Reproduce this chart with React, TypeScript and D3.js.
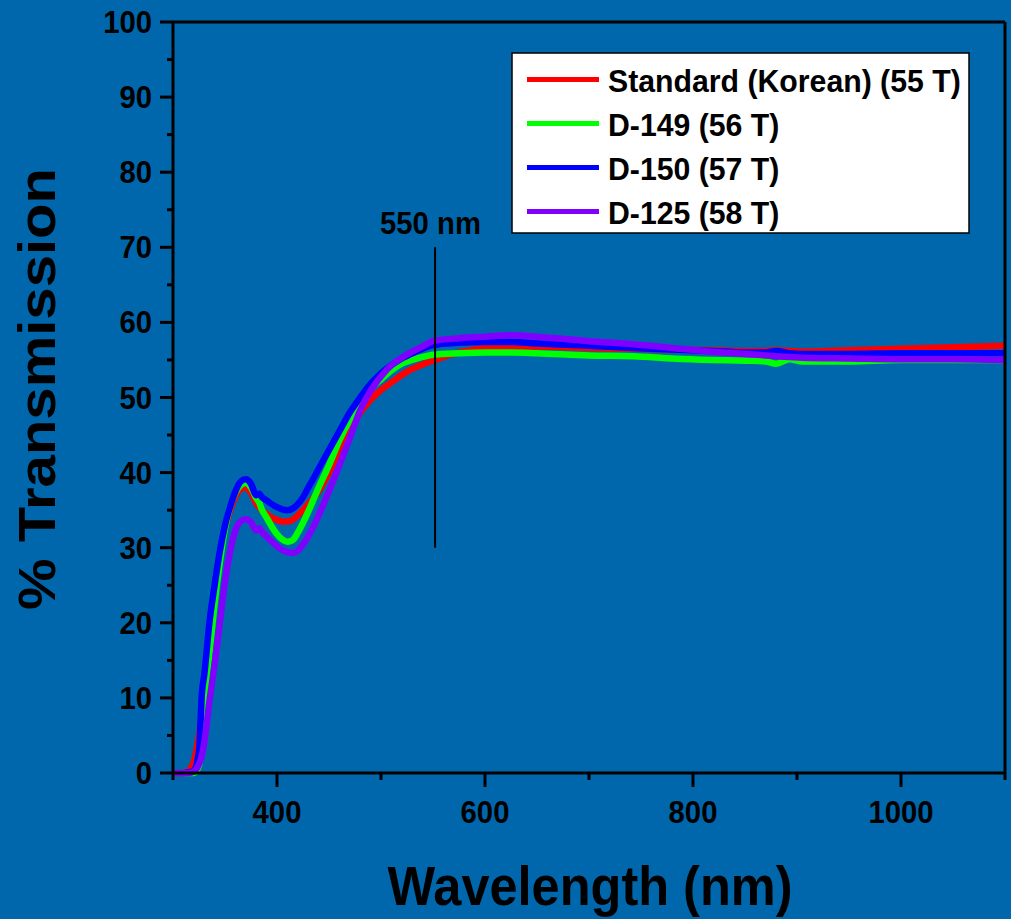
import React, { useRef, useEffect } from 'react';
import * as d3 from 'd3';

// wavelength grid (nm), shared by all series
const wavelengths = [
  300, 310, 315, 320, 325, 328, 330, 335, 340, 345, 350, 355, 360, 365, 370, 375, 380, 383, 385, 390,
  395, 400, 405, 410, 415, 420, 425, 430, 435, 440, 450, 460, 470, 480, 490, 500, 510, 520, 530, 540,
  550, 575, 600, 625, 650, 700, 743, 780, 818, 850, 870, 880, 893, 905, 950, 1000, 1050, 1100,
];

const standardKorean = [
  0, 0, 0.3, 1.5, 5, 8, 11, 17, 23, 28.5, 32.5, 35, 36.8, 37.8, 38, 37.3, 35.9, 35.4, 35, 34.5,
  34, 33.7, 33.5, 33.5, 33.7, 34.3, 35, 35.8, 36.6, 37.5, 40, 43, 45.8, 48, 49.7, 51, 52, 53, 53.8, 54.4,
  54.9, 56, 56.6, 56.8, 56.8, 56.6, 56.5, 56.4, 56.3, 56.2, 56.2, 56.3, 56.2, 56.1, 56.3, 56.5, 56.7, 56.9,
];

const d149 = [
  0, 0, 0, 0, 1, 5, 9, 16, 22.5, 28, 32.5, 35.5, 37.3, 38.3, 38.6, 38, 36.6, 36, 35.2, 34,
  32.8, 31.8, 31.1, 30.8, 31, 32, 33.3, 34.8, 36.4, 38, 41, 44.3, 47, 49.3, 51.2, 52.4, 53.6, 54.5, 55, 55.4,
  55.7, 55.9, 56, 56, 55.9, 55.6, 55.5, 55.2, 55, 54.9, 54.8, 54.5, 55.1, 54.8, 54.8, 55, 55, 55,
];

const d150 = [
  0, 0, 0.1, 0.3, 3, 11, 13, 20, 25, 29.5, 33, 35.5, 37.5, 38.8, 39.1, 38.5, 37, 37.2, 36.8, 36.3,
  35.8, 35.4, 35.1, 35, 35.2, 35.8, 36.7, 38, 39.2, 40.5, 43, 45.5, 48, 50, 51.8, 53.2, 54.3, 55.2, 55.9, 56.5,
  57, 57.3, 57.4, 57.4, 57.2, 56.9, 56.6, 56.4, 56.2, 56, 56, 56.2, 55.9, 55.8, 55.8, 55.9, 55.9, 55.9,
];

const d125 = [
  0, 0, 0, 0.2, 1.2, 2.5, 4, 9.5, 14.5, 20, 25.5, 29.5, 32.3, 33.5, 33.8, 33.4, 32.3, 32.6, 32.2, 31.5,
  30.8, 30.2, 29.7, 29.4, 29.3, 29.6, 30.4, 31.5, 32.8, 34.3, 37.5, 41, 44.6, 48.3, 50.9, 52.8, 54.3, 55.3, 56.1, 56.8,
  57.5, 57.9, 58.1, 58.3, 58.1, 57.5, 57.1, 56.6, 56.1, 55.8, 55.6, 55.5, 55.4, 55.3, 55.2, 55.1, 55.1, 55,
];

const seriesNames = ['Standard (Korean) (55 T)', 'D-149 (56 T)', 'D-150 (57 T)', 'D-125 (58 T)'];
const seriesColors = ['#ff0000', '#00ff00', '#0000ff', '#8000ff'];
const seriesValues = [standardKorean, d149, d150, d125];

const xMajorTicks = [400, 600, 800, 1000];
const xMinorTicks = [300, 500, 700, 900, 1100];
const yMajorTicks = [0, 10, 20, 30, 40, 50, 60, 70, 80, 90, 100];
const yMinorTicks = [5, 15, 25, 35, 45, 55, 65, 75, 85, 95];

const markerWavelength = 552;
const markerRange = [30, 70];

const W = 1011;
const H = 919;
const FONT = '"Liberation Sans", Arial, Helvetica, sans-serif';
// the original text is slightly condensed horizontally
const SQUEEZE = 0.945;

const App: React.FC = () => {
  const svgRef = useRef<SVGSVGElement>(null);

  useEffect(() => {
    if (!svgRef.current) return;
    const svg = d3.select(svgRef.current);
    svg.selectAll('*').remove();

    const left = 173, right = 1005, top = 22, bottom = 773;

    const x = d3.scaleLinear().domain([300, 1100]).range([left, right]);
    const y = d3.scaleLinear().domain([0, 100]).range([bottom, top]);

    svg.append('rect').attr('width', W).attr('height', H).attr('fill', '#0067ad');

    // curves
    const line = d3.line<number>()
      .x((_, i) => x(wavelengths[i]))
      .y((d) => y(d))
      .curve(d3.curveMonotoneX);

    seriesValues.forEach((vals, i) => {
      svg.append('path')
        .datum(vals)
        .attr('d', line)
        .attr('fill', 'none')
        .attr('stroke', seriesColors[i])
        .attr('stroke-width', 6.5)
        .attr('stroke-linejoin', 'round');
    });

    // frame
    const axis = svg.append('g').attr('stroke', '#000').attr('stroke-width', 3);
    axis.append('line').attr('x1', left).attr('x2', right).attr('y1', bottom).attr('y2', bottom);
    axis.append('line').attr('x1', left).attr('x2', left).attr('y1', top).attr('y2', bottom);
    axis.append('line').attr('x1', left).attr('x2', right).attr('y1', top).attr('y2', top);
    axis.append('line').attr('x1', right).attr('x2', right).attr('y1', top).attr('y2', bottom);

    xMajorTicks.forEach((t) => {
      axis.append('line').attr('x1', x(t)).attr('x2', x(t)).attr('y1', bottom).attr('y2', bottom + 14);
    });
    xMinorTicks.forEach((t) => {
      axis.append('line').attr('x1', x(t)).attr('x2', x(t)).attr('y1', bottom).attr('y2', bottom + 7);
    });
    yMajorTicks.forEach((t) => {
      axis.append('line').attr('x1', left - 13).attr('x2', left).attr('y1', y(t)).attr('y2', y(t));
    });
    yMinorTicks.forEach((t) => {
      axis.append('line').attr('x1', left - 6).attr('x2', left).attr('y1', y(t)).attr('y2', y(t));
    });

    const labels = svg.append('g')
      .attr('font-family', FONT)
      .attr('font-weight', 'bold')
      .attr('fill', '#000');

    const squeezed = (tx: number, ty: number, size: number, anchor: string, str: string) =>
      labels.append('text')
        .attr('transform', `translate(${tx},${ty}) scale(${SQUEEZE},1)`)
        .attr('text-anchor', anchor)
        .attr('font-size', size)
        .text(str);

    xMajorTicks.forEach((t) => squeezed(x(t), 823, 31, 'middle', String(t)));
    yMajorTicks.forEach((t) => squeezed(152, y(t) + 11, 31, 'end', String(t)));

    // axis titles
    labels.append('text')
      .attr('x', 590)
      .attr('y', 905)
      .attr('text-anchor', 'middle')
      .attr('font-size', 55)
      .attr('textLength', 405)
      .attr('lengthAdjust', 'spacingAndGlyphs')
      .text('Wavelength (nm)');

    labels.append('text')
      .attr('transform', 'translate(55,389) rotate(-90)')
      .attr('text-anchor', 'middle')
      .attr('font-size', 52)
      .attr('textLength', 442)
      .attr('lengthAdjust', 'spacingAndGlyphs')
      .text('% Transmission');

    // 550 nm marker
    svg.append('line')
      .attr('x1', x(markerWavelength)).attr('x2', x(markerWavelength))
      .attr('y1', y(markerRange[0])).attr('y2', y(markerRange[1]))
      .attr('stroke', '#000')
      .attr('stroke-width', 2);
    squeezed(430.5, 234, 31, 'middle', '550 nm');

    // legend
    const lg = svg.append('g');
    lg.append('rect')
      .attr('x', 512).attr('y', 53)
      .attr('width', 457).attr('height', 180)
      .attr('fill', '#fff')
      .attr('stroke', '#000')
      .attr('stroke-width', 1.5);
    seriesNames.forEach((name, i) => {
      const ly = 79.5 + i * 44;
      lg.append('line')
        .attr('x1', 527).attr('x2', 599)
        .attr('y1', ly).attr('y2', ly)
        .attr('stroke', seriesColors[i])
        .attr('stroke-width', 5);
      lg.append('text')
        .attr('transform', `translate(608,${ly + 12.5}) scale(${SQUEEZE},1)`)
        .attr('font-family', FONT)
        .attr('font-weight', 'bold')
        .attr('font-size', 32)
        .attr('fill', '#000')
        .text(name);
    });
  }, []);

  return (
    <svg
      ref={svgRef}
      width={W}
      height={H}
      style={{ position: 'absolute', left: 0, top: 0, display: 'block' }}
    />
  );
};

export default App;
